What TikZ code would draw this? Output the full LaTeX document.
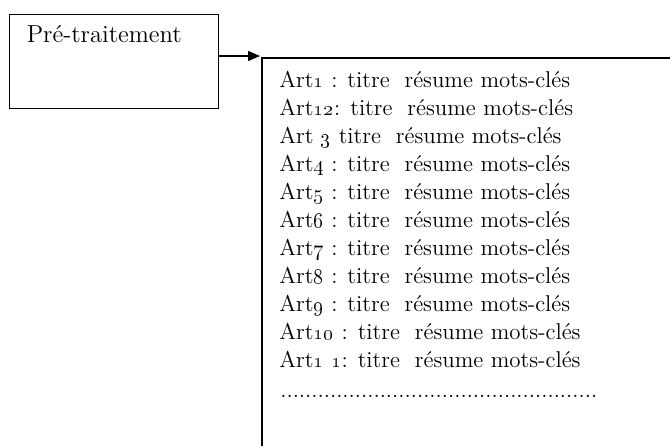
\documentclass[tikz,border=0pt]{standalone}
\usepackage{tikz}
\usetikzlibrary{arrows.meta}

\begin{document}
\begin{tikzpicture}[
  boxline/.style={thick},
  arttext/.style={anchor=base west, inner sep=0pt, font=\fontsize{13}{15}\selectfont}
]
\useasboundingbox (0,0) rectangle (13.4,8.92);
% left box
\node[draw, boxline, anchor=north west, minimum width=4.19cm, minimum height=1.88cm, inner sep=0pt] (pre) at (0.17,8.64) {};
\node[anchor=base west, inner sep=0pt, font=\fontsize{14}{16}\selectfont] (pretxt) at (0.53,8.06) {Pré-traitement};
% open list box
\coordinate (lst) at (5.24,7.76);
\coordinate (tip) at (5.2,7.8);
\draw[boxline] (5.24,0) -- (lst) -- (13.4,7.76);
\draw[boxline, -{Triangle[length=2.4mm,width=2mm]}] (pre.east |- tip) -- (tip);
% articles
\foreach \lbl [count=\i from 0] in {%
  {Art\oldstylenums{1} : titre\ \ résume mots-clés},
  {Art\oldstylenums{12}: titre\ \ résume mots-clés},
  {Art \oldstylenums{3} titre\ \ résume mots-clés},
  {Art\oldstylenums{4} : titre\ \ résume mots-clés},
  {Art\oldstylenums{5} : titre\ \ résume mots-clés},
  {Art\oldstylenums{6} : titre\ \ résume mots-clés},
  {Art\oldstylenums{7} : titre\ \ résume mots-clés},
  {Art\oldstylenums{8} : titre\ \ résume mots-clés},
  {Art\oldstylenums{9} : titre\ \ résume mots-clés},
  {Art\oldstylenums{10} : titre\ \ résume mots-clés},
  {Art\oldstylenums{1} \oldstylenums{1}: titre\ \ résume mots-clés}} {
\node[arttext] (art\i) at (5.58,7.16-0.56*\i) {\lbl};
}
\node[arttext] (more) at (5.6,0.98) {\foreach \d in {1,...,51}{.}};
\end{tikzpicture}
\end{document}
